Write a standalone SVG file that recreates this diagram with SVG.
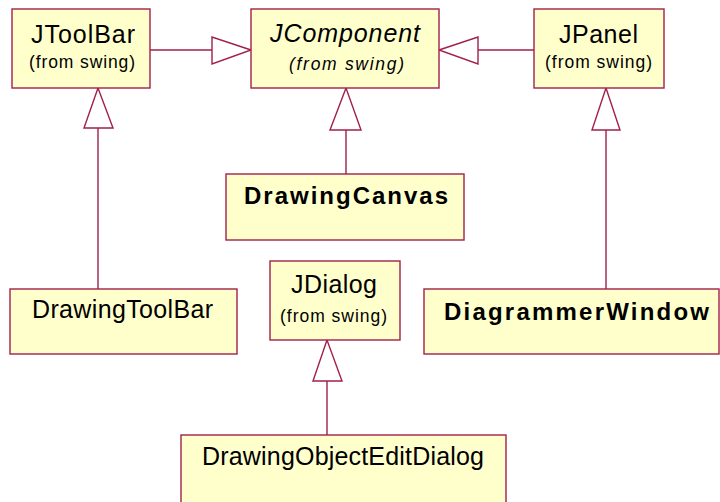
<svg xmlns="http://www.w3.org/2000/svg" width="720" height="502" viewBox="0 0 720 502">
  <style>
    .box { fill: #FFFFCC; stroke: #A0204A; stroke-width: 1.4; }
    .edge { fill: none; stroke: #A0204A; stroke-width: 1.4; }
    .head { fill: #FFFFFF; stroke: #A0204A; stroke-width: 1.4; stroke-linejoin: miter; }
    .name { font-family: "Liberation Sans", Arial, sans-serif; font-size: 25px; fill: #000; }
    .bold { font-weight: bold; font-size: 24px; }
    .ital { font-style: italic; }
    .pkg { font-family: "Liberation Sans", Arial, sans-serif; font-size: 17.5px; fill: #000; }
  </style>
  <rect width="720" height="502" fill="#FFFFFF"/>

  <!-- generalization connectors (hollow triangle points at the parent) -->
  <g id="connectors">
    <line class="edge" x1="150" y1="50" x2="212" y2="50"/>
    <polygon class="head" points="251,50 212,37 212,64"/>

    <line class="edge" x1="534" y1="50" x2="478" y2="50"/>
    <polygon class="head" points="439,50 478,37 478,64"/>

    <line class="edge" x1="98" y1="289" x2="98" y2="128"/>
    <polygon class="head" points="98,88 84,128 113,128"/>

    <line class="edge" x1="346" y1="174" x2="346" y2="130"/>
    <polygon class="head" points="346,88 330,130 361,130"/>

    <line class="edge" x1="606" y1="289" x2="606" y2="130"/>
    <polygon class="head" points="606,88 592,130 620,130"/>

    <line class="edge" x1="327" y1="435" x2="327" y2="381"/>
    <polygon class="head" points="327,340 313,381 342,381"/>
  </g>

  <g id="JToolBar">
    <rect class="box" x="12" y="9" width="138" height="79"/>
    <text class="name" x="31" y="43" textLength="104" lengthAdjust="spacing">JToolBar</text>
    <text class="pkg" x="29" y="68" textLength="106" lengthAdjust="spacing">(from swing)</text>
  </g>

  <g id="JComponent">
    <rect class="box" x="251" y="9" width="188" height="79"/>
    <text class="name ital" x="270" y="42" textLength="150" lengthAdjust="spacing">JComponent</text>
    <text class="pkg ital" x="289" y="70" textLength="115" lengthAdjust="spacing">(from swing)</text>
  </g>

  <g id="JPanel">
    <rect class="box" x="534" y="9" width="130" height="79"/>
    <text class="name" x="559" y="43" textLength="79" lengthAdjust="spacing">JPanel</text>
    <text class="pkg" x="545" y="68" textLength="107" lengthAdjust="spacing">(from swing)</text>
  </g>

  <g id="DrawingCanvas">
    <rect class="box" x="226" y="174" width="238" height="66"/>
    <text class="name bold" x="244" y="204" textLength="204" lengthAdjust="spacing">DrawingCanvas</text>
  </g>

  <g id="DrawingToolBar">
    <rect class="box" x="10" y="289" width="227" height="65"/>
    <text class="name" x="32" y="318" textLength="181" lengthAdjust="spacing">DrawingToolBar</text>
  </g>

  <g id="JDialog">
    <rect class="box" x="270" y="261" width="130" height="79"/>
    <text class="name" x="291" y="293" textLength="86" lengthAdjust="spacing">JDialog</text>
    <text class="pkg" x="280" y="322" textLength="107" lengthAdjust="spacing">(from swing)</text>
  </g>

  <g id="DiagrammerWindow">
    <rect class="box" x="424" y="289" width="295" height="65"/>
    <text class="name bold" x="444" y="320" textLength="265" lengthAdjust="spacing">DiagrammerWindow</text>
  </g>

  <g id="DrawingObjectEditDialog">
    <rect class="box" x="181" y="435" width="325" height="80"/>
    <text class="name" x="202" y="465" textLength="282" lengthAdjust="spacing">DrawingObjectEditDialog</text>
  </g>
</svg>
